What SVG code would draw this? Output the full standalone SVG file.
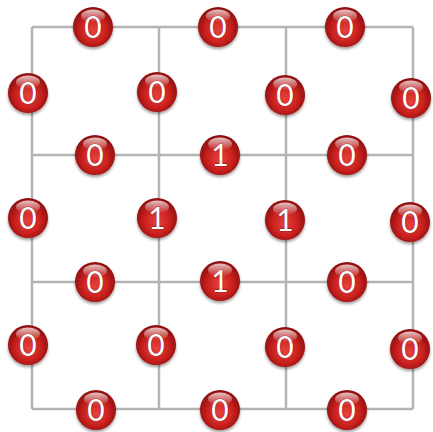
<svg xmlns="http://www.w3.org/2000/svg" width="433" height="432" viewBox="0 0 433 432">
<defs>
<radialGradient id="ball" cx="0.5" cy="0.55" r="0.55" fx="0.5" fy="0.6">
<stop offset="0" stop-color="#e8413c"/>
<stop offset="0.6" stop-color="#c8201e"/>
<stop offset="1" stop-color="#8a0e0e"/>
</radialGradient>
<linearGradient id="shine" x1="0" y1="0" x2="0" y2="1">
<stop offset="0" stop-color="#ffffff" stop-opacity="0.75"/>
<stop offset="1" stop-color="#ffffff" stop-opacity="0"/>
</linearGradient>
<filter id="sh" x="-30%" y="-30%" width="160%" height="170%">
<feGaussianBlur in="SourceAlpha" stdDeviation="1.5"/>
<feOffset dy="2" result="b"/>
<feComponentTransfer><feFuncA type="linear" slope="0.4"/></feComponentTransfer>
<feMerge><feMergeNode/><feMergeNode in="SourceGraphic"/></feMerge>
</filter>
<g id="sph">
<circle r="20" fill="url(#ball)" filter="url(#sh)"/>
<ellipse cx="0" cy="-11" rx="12" ry="6.5" fill="url(#shine)"/>
</g>
</defs>
<style>
.ln{stroke:#b4b4b4;stroke-width:2.5;fill:none}
.t{font-family:Lato,"Open Sans","Liberation Sans",sans-serif;font-size:30px;fill:#fff;text-anchor:middle;stroke:#7a1010;stroke-width:0.6;paint-order:stroke}
</style>
<g id="connectors">
<path class="ln" d="M32 27H413M32 155H413M32 282H413M32 409H413M32 27V409M159 27V409M286 27V409M413 27V409"/>
</g>
<g id="e1"><use href="#sph" x="93" y="27"/><text class="t" x="93" y="38">0</text></g>
<g id="e2"><use href="#sph" x="218" y="27"/><text class="t" x="218" y="38">0</text></g>
<g id="e3"><use href="#sph" x="345" y="27"/><text class="t" x="345" y="38">0</text></g>
<g id="e4"><use href="#sph" x="28" y="93"/><text class="t" x="28" y="104">0</text></g>
<g id="e5"><use href="#sph" x="157" y="92"/><text class="t" x="157" y="103">0</text></g>
<g id="e6"><use href="#sph" x="285" y="95"/><text class="t" x="285" y="106">0</text></g>
<g id="e7"><use href="#sph" x="411" y="98"/><text class="t" x="411" y="109">0</text></g>
<g id="e8"><use href="#sph" x="95" y="155"/><text class="t" x="95" y="166">0</text></g>
<g id="e9"><use href="#sph" x="220" y="155"/><text class="t" x="220" y="166">1</text></g>
<g id="e10"><use href="#sph" x="347" y="155"/><text class="t" x="347" y="166">0</text></g>
<g id="e11"><use href="#sph" x="28" y="218"/><text class="t" x="28" y="229">0</text></g>
<g id="e12"><use href="#sph" x="157" y="218"/><text class="t" x="157" y="229">1</text></g>
<g id="e13"><use href="#sph" x="285" y="220"/><text class="t" x="285" y="231">1</text></g>
<g id="e14"><use href="#sph" x="410" y="222"/><text class="t" x="410" y="233">0</text></g>
<g id="e15"><use href="#sph" x="95" y="282"/><text class="t" x="95" y="293">0</text></g>
<g id="e16"><use href="#sph" x="220" y="281"/><text class="t" x="220" y="292">1</text></g>
<g id="e17"><use href="#sph" x="347" y="282"/><text class="t" x="347" y="293">0</text></g>
<g id="e18"><use href="#sph" x="28" y="345"/><text class="t" x="28" y="356">0</text></g>
<g id="e19"><use href="#sph" x="156" y="345"/><text class="t" x="156" y="356">0</text></g>
<g id="e20"><use href="#sph" x="285" y="347"/><text class="t" x="285" y="358">0</text></g>
<g id="e21"><use href="#sph" x="410" y="349"/><text class="t" x="410" y="360">0</text></g>
<g id="e22"><use href="#sph" x="96" y="410"/><text class="t" x="96" y="421">0</text></g>
<g id="e23"><use href="#sph" x="220" y="410"/><text class="t" x="220" y="421">0</text></g>
<g id="e24"><use href="#sph" x="347" y="410"/><text class="t" x="347" y="421">0</text></g>
</svg>
